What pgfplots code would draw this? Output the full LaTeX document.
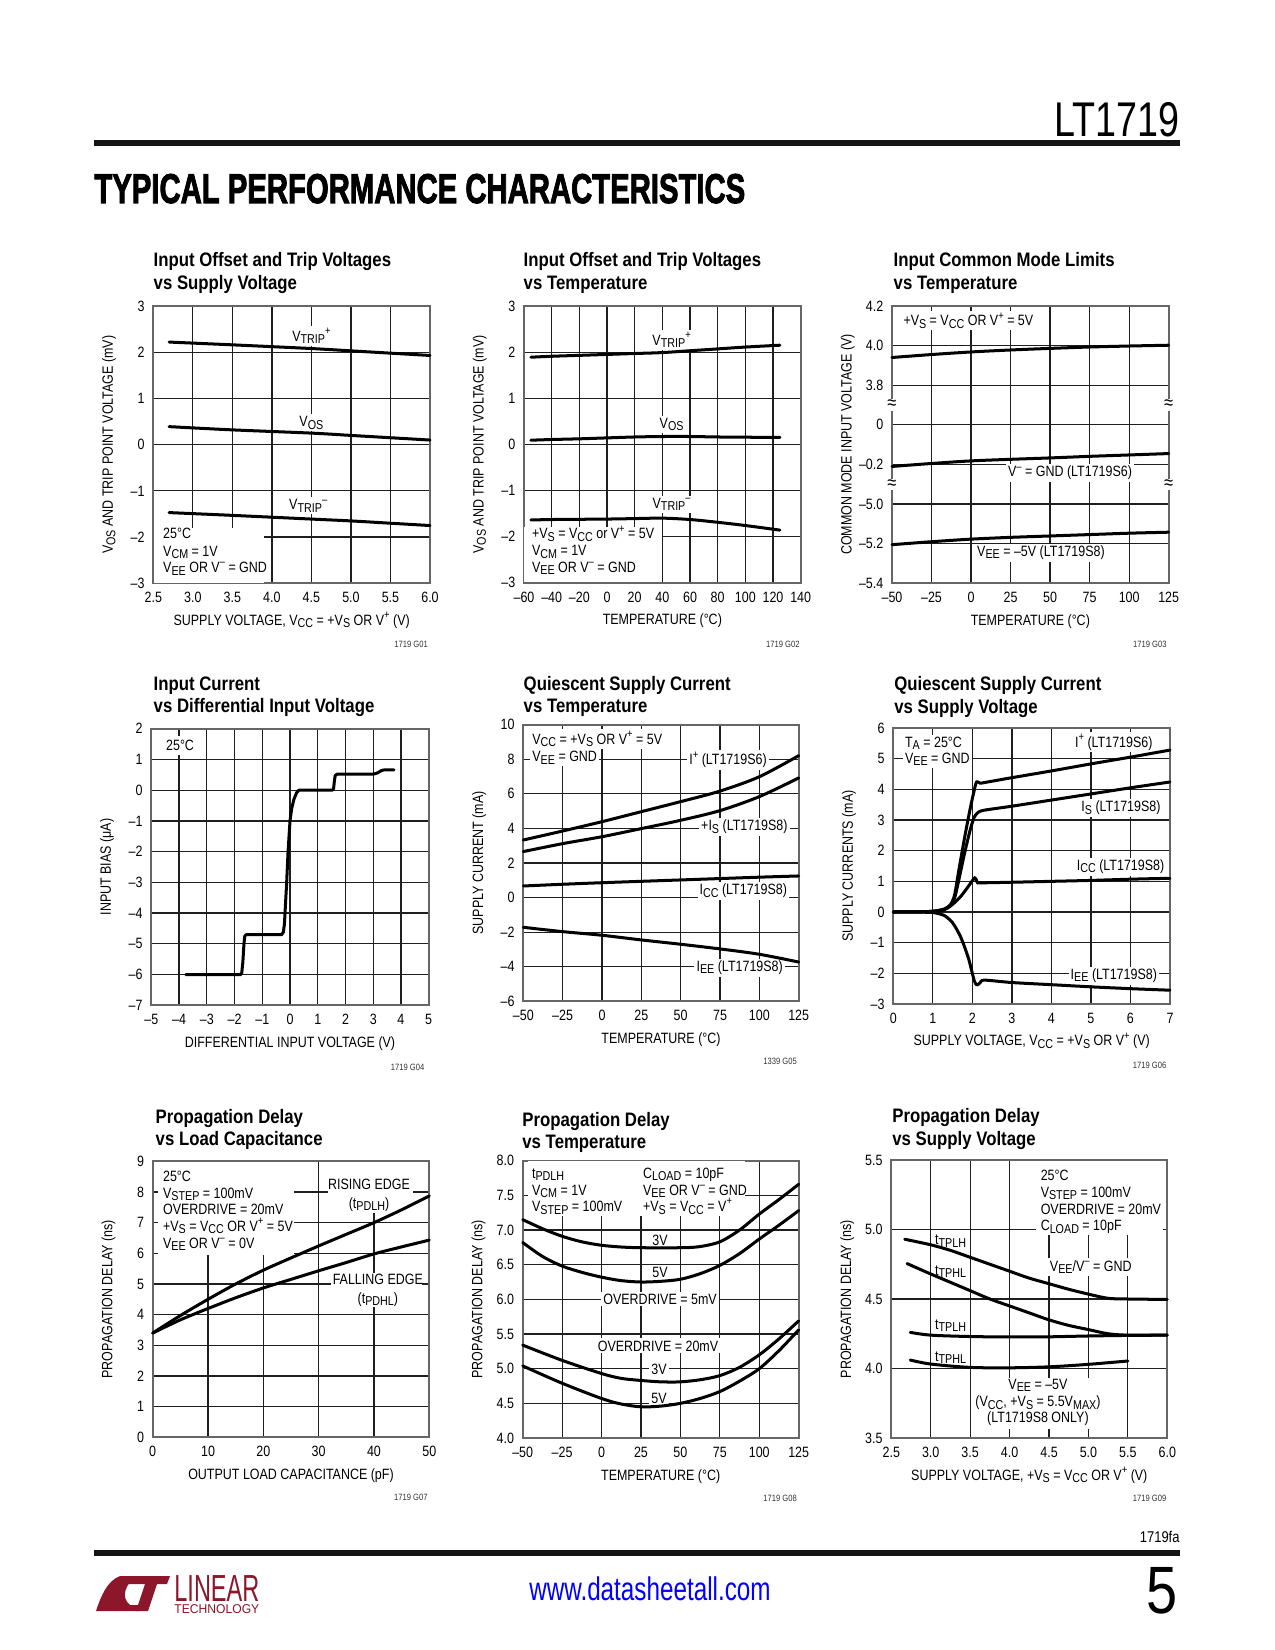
\documentclass[border=0pt]{standalone}
\usepackage{fontspec}
\setmainfont{Liberation Sans}[FakeStretch=0.835]
\newfontfamily\titlefam{Liberation Sans}[FakeStretch=0.86]
\newfontfamily\heavyfam{Liberation Sans}[FakeBold=2.5]
\newfontfamily\urlfam{Liberation Sans}[FakeStretch=0.74]
\usepackage{graphicx}
\usepackage{pgfplots}
\pgfplotsset{compat=1.18}
\definecolor{logored}{RGB}{140,22,42}

\newcommand\cf{\fontsize{7.2}{8.2}\selectfont}
\newcommand\Sb[1]{\raisebox{-0.3ex}{\fontsize{6.2}{6.2}\selectfont #1}}
\newcommand\Sp[1]{\raisebox{0.85ex}{\fontsize{5.4}{5.4}\selectfont #1}}
\newcommand\ctitle[4]{%
  \node[anchor=base west,inner sep=0pt,font=\titlefam\bfseries\fontsize{9.4}{11}\selectfont] at (#1,#2) {#3};
  \node[anchor=base west,inner sep=0pt,font=\titlefam\bfseries\fontsize{9.4}{11}\selectfont] at (#1,#2+22.6) {#4};}
\newcommand\gcode[3]{\node[anchor=base east,inner sep=0pt,font=\fontsize{4.4}{5}\selectfont,text=black!80] at (#1,#2) {#3};}

\pgfplotsset{
 ds/.style={
  scale only axis, clip=false,
  axis line style={draw=black!60, line width=0.8pt},
  grid=major,
  major grid style={draw=black!88, line width=0.6pt},
  major tick length=0pt,
  xtick style={draw=none}, ytick style={draw=none},
  tick label style={font=\cf, text=black},
  xticklabel style={anchor=base, inner sep=0pt, yshift=-9.45pt},
  yticklabel style={anchor=east, inner sep=0pt, xshift=-4pt},
  label style={font=\cf},
  xlabel style={at={(axis description cs:0.5,-0.152)}, anchor=base, inner sep=0pt},
  ylabel style={at={(axis description cs:-0.16,0.5)}, anchor=center, inner sep=0pt},
  every axis plot/.append style={line width=1.45pt, draw=black, mark=none, line join=round, line cap=round},
 },
 pos/.style 2 args={at={(#1*0.4818pt,-#2*0.4818pt)}, anchor=south west},
}
\tikzset{
 lab/.style={fill=white, inner sep=1pt, font=\cf},
 txt/.style={inner sep=0pt, font=\cf},
 brk/.style={fill=white,inner xsep=0pt,inner ysep=0.4pt,font=\fontsize{9.5}{9.5}\selectfont},
}

\begin{document}
\begin{tikzpicture}
\path[use as bounding box, fill=white] (0,0) rectangle (8.5in,-11in);
\begin{scope}[x=0.4818pt,y=-0.4818pt]
% header
\fill[black!92] (94,140) rectangle (1180,146);
\node[anchor=base east,inner sep=0pt] at (1180,137) {\resizebox{60.2pt}{16.4pt}{LT1719}};
\node[anchor=base west,inner sep=0pt] at (94,203) {\resizebox{313.6pt}{14pt}{\heavyfam\bfseries TYPICAL PERFORMANCE CHARACTERISTICS}};
% footer
\fill[black!92] (94,1550) rectangle (1180,1556);
\node[anchor=base east,inner sep=0pt,font=\fontsize{7.5}{8}\selectfont] at (1180,1542) {1719fa};
\node[anchor=base,inner sep=0pt,text=blue,font=\urlfam\fontsize{15.8}{16}\selectfont] at (650,1600) {www.datasheetall.com};
\node[anchor=base east,inner sep=0pt] at (1178,1613) {\resizebox{!}{22.2pt}{5}};
% logo
\fill[logored] (96,1611) .. controls (101,1596) and (107,1581) .. (120,1576) -- (136,1576) .. controls (126,1584) and (120,1597) .. (130,1605) -- (141,1605) -- (138,1611) -- cycle;
\fill[logored] (131,1576) -- (170,1576) -- (167,1584) -- (157,1584) -- (148,1611) -- (136,1611) -- (145,1584) -- (128,1584) -- cycle;
\node[anchor=base west,inner sep=0pt,text=logored] at (174,1601) {\resizebox{40.9pt}{12.5pt}{LINEAR}};
\node[anchor=base west,inner sep=0pt,text=logored] at (174,1613) {\resizebox{40.9pt}{4.3pt}{TECHNOLOGY}};
% titles
\ctitle{153.3}{266.7}{Input Offset and Trip Voltages}{vs Supply Voltage}
\ctitle{523.3}{266.7}{Input Offset and Trip Voltages}{vs Temperature}
\ctitle{893.3}{266.7}{Input Common Mode Limits}{vs Temperature}
\ctitle{153.3}{690}{Input Current}{vs Differential Input Voltage}
\ctitle{523.3}{690}{Quiescent Supply Current}{vs Temperature}
\ctitle{894}{690.7}{Quiescent Supply Current}{vs Supply Voltage}
\ctitle{155.3}{1123.3}{Propagation Delay}{vs Load Capacitance}
\ctitle{522}{1126}{Propagation Delay}{vs Temperature}
\ctitle{892}{1122.7}{Propagation Delay}{vs Supply Voltage}
% codes
\gcode{428.3}{647.3}{1719 G01}
\gcode{800}{647.3}{1719 G02}
\gcode{1167}{647.3}{1719 G03}
\gcode{424.7}{1070}{1719 G04}
\gcode{797.3}{1064.7}{1339 G05}
\gcode{1166.7}{1068.7}{1719 G06}
\gcode{428}{1500.7}{1719 G07}
\gcode{797.3}{1501.3}{1719 G08}
\gcode{1166.7}{1501.3}{1719 G09}
\end{scope}

% ---------------- Chart 1
\begin{axis}[ds, pos={153.3}{583.3}, width=133.31pt, height=133.60pt,
 xmin=2.5,xmax=6,ymin=-3,ymax=3,
 xtick={2.5,3,3.5,4,4.5,5,5.5,6}, xticklabels={2.5,3.0,3.5,4.0,4.5,5.0,5.5,6.0},
 ytick={-3,-2,-1,0,1,2,3}, yticklabels={–3,–2,–1,0,1,2,3},
 xlabel={SUPPLY VOLTAGE, V\Sb{CC} = +V\Sb{S} OR V\Sp{+} (V)},
 ylabel={V\Sb{OS} AND TRIP POINT VOLTAGE (mV)}]
\fill[white] (axis cs:2.515,-2.985) rectangle (axis cs:3.9,-1.8);
\node[txt,anchor=base west] at (axis cs:2.62,-2.03) {25°C};
\node[txt,anchor=base west] at (axis cs:2.62,-2.41) {V\Sb{CM} = 1V};
\node[txt,anchor=base west] at (axis cs:2.62,-2.77) {V\Sb{EE} OR V\Sp{–} = GND};
\node[lab,anchor=base] at (axis cs:4.5,2.23) {V\Sb{TRIP}\Sp{+}};
\node[lab,anchor=base] at (axis cs:4.5,0.39) {V\Sb{OS}};
\node[lab,anchor=base] at (axis cs:4.46,-1.41) {V\Sb{TRIP}\Sp{–}};
\addplot[smooth] coordinates {(2.7,2.22)(3.5,2.16)(4.5,2.08)(5,2.03)(5.5,1.98)(6,1.93)};
\addplot[smooth] coordinates {(2.7,0.39)(3.5,0.32)(4.5,0.25)(5,0.2)(5.5,0.15)(6,0.1)};
\addplot[smooth] coordinates {(2.7,-1.47)(3.5,-1.53)(4.5,-1.61)(5,-1.65)(5.5,-1.7)(6,-1.75)};
\end{axis}

% ---------------- Chart 2
\begin{axis}[ds, pos={524}{582.7}, width=133.31pt, height=133.31pt,
 xmin=-60,xmax=140,ymin=-3,ymax=3,
 xtick={-60,-40,-20,0,20,40,60,80,100,120,140}, xticklabels={–60,–40,–20,0,20,40,60,80,100,120,140},
 ytick={-3,-2,-1,0,1,2,3}, yticklabels={–3,–2,–1,0,1,2,3},
 xlabel={TEMPERATURE (°C)},
 ylabel={V\Sb{OS} AND TRIP POINT VOLTAGE (mV)}]
\fill[white] (axis cs:-59.7,-2.985) rectangle (axis cs:39.5,-1.8);
\node[txt,anchor=base west] at (axis cs:-54.5,-2.05) {+V\Sb{S} = V\Sb{CC} or V\Sp{+} = 5V};
\node[txt,anchor=base west] at (axis cs:-54.5,-2.42) {V\Sb{CM} = 1V};
\node[txt,anchor=base west] at (axis cs:-54.5,-2.78) {V\Sb{EE} OR V\Sp{–} = GND};
\node[lab,anchor=base] at (axis cs:46.7,2.15) {V\Sb{TRIP}\Sp{+}};
\node[lab,anchor=base] at (axis cs:46.7,0.35) {V\Sb{OS}};
\node[lab,anchor=base] at (axis cs:46.7,-1.39) {V\Sb{TRIP}\Sp{–}};
\addplot[smooth] coordinates {(-55,1.89)(-40,1.91)(-20,1.93)(0,1.95)(20,1.97)(40,1.99)(60,2.03)(80,2.07)(100,2.11)(125,2.15)};
\addplot[smooth] coordinates {(-55,0.09)(-40,0.105)(-20,0.12)(0,0.14)(20,0.16)(40,0.17)(60,0.17)(80,0.16)(100,0.155)(125,0.15)};
\addplot[smooth] coordinates {(-55,-1.64)(-40,-1.63)(-20,-1.625)(0,-1.62)(20,-1.61)(40,-1.6)(60,-1.63)(80,-1.69)(100,-1.76)(125,-1.86)};
\end{axis}

% ---------------- Chart 3 (broken axis: 7 equal steps)
\begin{axis}[ds, pos={892}{583.3}, width=133.31pt, height=133.60pt,
 xmin=-50,xmax=125,ymin=0,ymax=7,
 xtick={-50,-25,0,25,50,75,100,125}, xticklabels={–50,–25,0,25,50,75,100,125},
 ytick={0,1,2,3,4,5,6,7}, yticklabels={–5.4,–5.2,–5.0,–0.2,0,3.8,4.0,4.2},
 xlabel={TEMPERATURE (°C)},
 ylabel={COMMON MODE INPUT VOLTAGE (V)}]
\node[lab,anchor=base west] at (axis cs:-44.3,6.5) {+V\Sb{S} = V\Sb{CC} OR V\Sp{+} = 5V};
\node[lab,anchor=base] at (axis cs:62.6,2.69) {V\Sp{–} = GND (LT1719S6)};
\node[lab,anchor=base] at (axis cs:44.2,0.675) {V\Sb{EE} = –5V (LT1719S8)};
\node[brk] at (axis cs:-50,2.5) {≈};
\node[brk] at (axis cs:-50,4.5) {≈};
\node[brk] at (axis cs:125,2.5) {≈};
\node[brk] at (axis cs:125,4.5) {≈};
\addplot[smooth] table[x=t, y expr={5+(\thisrow{v}-3.8)/0.2}, row sep=\\] {t v\\ -50 3.94\\ -25 3.955\\ 0 3.968\\ 25 3.978\\ 50 3.986\\ 75 3.993\\ 100 3.998\\ 125 4.002\\};
\addplot[smooth] table[x=t, y expr={3+(\thisrow{v}+0.2)/0.2}, row sep=\\] {t v\\ -50 -0.21\\ -25 -0.195\\ 0 -0.182\\ 25 -0.174\\ 50 -0.167\\ 75 -0.159\\ 100 -0.152\\ 125 -0.145\\};
\addplot[smooth] table[x=t, y expr={(\thisrow{v}+5.4)/0.2}, row sep=\\] {t v\\ -50 -5.205\\ -25 -5.19\\ 0 -5.177\\ 25 -5.168\\ 50 -5.161\\ 75 -5.154\\ 100 -5.147\\ 125 -5.142\\};
\end{axis}

% ---------------- Chart 4
\begin{axis}[ds, pos={151.3}{1005.3}, width=133.65pt, height=133.27pt,
 xmin=-5,xmax=5,ymin=-7,ymax=2,
 xtick={-5,-4,-3,-2,-1,0,1,2,3,4,5}, xticklabels={–5,–4,–3,–2,–1,0,1,2,3,4,5},
 ytick={-7,-6,-5,-4,-3,-2,-1,0,1,2}, yticklabels={–7,–6,–5,–4,–3,–2,–1,0,1,2},
 xlabel={DIFFERENTIAL INPUT VOLTAGE (V)},
 ylabel={INPUT BIAS (μA)}]
\node[fill=white,inner sep=2pt,font=\cf,anchor=base west] at (axis cs:-4.63,1.28) {25°C};
\addplot[sharp plot] coordinates {(-3.76,-6.0)(-1.78,-6.0)(-1.74,-5.95)(-1.7,-5.6)(-1.66,-5.0)(-1.63,-4.75)(-1.58,-4.7)(-0.3,-4.7)(-0.24,-4.62)(-0.2,-4.35)(-0.18,-4.0)(-0.12,-3.0)(-0.07,-2.0)(0.0,-1.0)(0.06,-0.6)(0.14,-0.3)(0.24,-0.08)(0.32,0)(1.52,0)(1.57,0.04)(1.6,0.3)(1.63,0.48)(1.7,0.52)(3.0,0.52)(3.15,0.56)(3.3,0.64)(3.4,0.66)(3.75,0.66)};
\end{axis}

% ---------------- Chart 5
\begin{axis}[ds, pos={523.3}{1001.3}, width=132.69pt, height=133.27pt,
 xmin=-50,xmax=125,ymin=-6,ymax=10,
 xtick={-50,-25,0,25,50,75,100,125}, xticklabels={–50,–25,0,25,50,75,100,125},
 ytick={-6,-4,-2,0,2,4,6,8,10}, yticklabels={–6,–4,–2,0,2,4,6,8,10},
 xlabel={TEMPERATURE (°C)},
 ylabel={SUPPLY CURRENT (mA)}]
\node[lab,anchor=base west] at (axis cs:-45.8,8.88) {V\Sb{CC} = +V\Sb{S} OR V\Sp{+} = 5V};
\node[lab,anchor=base west] at (axis cs:-45.8,7.86) {V\Sb{EE} = GND};
\node[lab,anchor=base] at (axis cs:80.1,7.67) {I\Sp{+} (LT1719S6)};
\node[lab,anchor=base] at (axis cs:90.5,3.87) {+I\Sb{S} (LT1719S8)};
\node[lab,anchor=base] at (axis cs:89.8,0.15) {I\Sb{CC} (LT1719S8)};
\node[lab,anchor=base] at (axis cs:87.5,-4.28) {I\Sb{EE} (LT1719S8)};
\addplot[smooth] coordinates {(-50,3.33)(-25,3.85)(0,4.39)(25,4.97)(50,5.55)(75,6.16)(100,6.99)(125,8.21)};
\addplot[smooth] coordinates {(-50,2.66)(-25,3.12)(0,3.52)(25,3.99)(50,4.47)(75,5.03)(100,5.84)(125,6.92)};
\addplot[smooth] coordinates {(-50,0.67)(-25,0.77)(0,0.86)(25,0.94)(50,1.02)(75,1.1)(100,1.18)(125,1.25)};
\addplot[smooth] coordinates {(-50,-1.72)(-25,-1.97)(0,-2.18)(25,-2.45)(50,-2.7)(75,-2.97)(100,-3.28)(125,-3.73)};
\end{axis}

% ---------------- Chart 6
\begin{axis}[ds, pos={893.3}{1004}, width=133.31pt, height=132.98pt,
 xmin=0,xmax=7,ymin=-3,ymax=6,
 xtick={0,1,2,3,4,5,6,7},
 ytick={-3,-2,-1,0,1,2,3,4,5,6}, yticklabels={–3,–2,–1,0,1,2,3,4,5,6},
 xticklabels={0,1,2,3,4,5,6,7},
 xlabel={SUPPLY VOLTAGE, V\Sb{CC} = +V\Sb{S} OR V\Sp{+} (V)},
 ylabel={SUPPLY CURRENTS (mA)}]
\node[lab,anchor=base west] at (axis cs:0.236,5.37) {T\Sb{A} = 25°C};
\node[lab,anchor=base west] at (axis cs:0.236,4.85) {V\Sb{EE} = GND};
\node[lab,anchor=base] at (axis cs:5.58,5.37) {I\Sp{+} (LT1719S6)};
\node[lab,anchor=base] at (axis cs:5.76,3.27) {I\Sb{S} (LT1719S8)};
\node[lab,anchor=base] at (axis cs:5.75,1.35) {I\Sb{CC} (LT1719S8)};
\node[lab,anchor=base] at (axis cs:5.58,-2.2) {I\Sb{EE} (LT1719S8)};
\addplot[smooth,tension=0.4] coordinates {(0,0)(0.8,0.01)(1.1,0.04)(1.3,0.1)(1.45,0.25)(1.55,0.55)(1.65,1.3)(1.8,2.4)(1.95,3.4)(2.08,4.15)(2.12,4.25)(2.2,4.2)(2.3,4.22)(3,4.38)(4,4.6)(5,4.83)(6,5.05)(7,5.28)};
\addplot[smooth,tension=0.4] coordinates {(0,0)(0.8,0.01)(1.1,0.03)(1.3,0.08)(1.45,0.2)(1.55,0.45)(1.65,1.0)(1.8,1.9)(1.95,2.7)(2.05,3.1)(2.15,3.25)(2.3,3.32)(3,3.45)(4,3.65)(5,3.85)(6,4.05)(7,4.24)};
\addplot[smooth,tension=0.4] coordinates {(0,0)(0.8,0.01)(1.1,0.04)(1.3,0.1)(1.5,0.25)(1.7,0.5)(1.85,0.75)(2.0,1.02)(2.06,1.12)(2.1,1.05)(2.13,0.95)(2.2,0.95)(3,0.97)(4,1.0)(5,1.03)(6,1.07)(7,1.1)};
\addplot[smooth,tension=0.4] coordinates {(0,0)(0.9,-0.01)(1.1,-0.04)(1.3,-0.12)(1.5,-0.35)(1.7,-0.8)(1.9,-1.5)(2.05,-2.25)(2.12,-2.38)(2.2,-2.3)(2.3,-2.22)(3,-2.3)(4,-2.37)(5,-2.44)(6,-2.5)(7,-2.55)};
\end{axis}

% ---------------- Chart 7
\begin{axis}[ds, pos={152.7}{1437.3}, width=133.27pt, height=132.98pt,
 xmin=0,xmax=50,ymin=0,ymax=9,
 xtick={0,10,20,30,40,50}, xticklabels={0,10,20,30,40,50},
 ytick={0,1,2,3,4,5,6,7,8,9}, yticklabels={0,1,2,3,4,5,6,7,8,9},
 xlabel={OUTPUT LOAD CAPACITANCE (pF)},
 ylabel={PROPAGATION DELAY (ns)}]
\fill[white] (axis cs:1.0,5.93) rectangle (axis cs:25.5,8.97);
\node[txt,anchor=base west] at (axis cs:1.8,8.34) {25°C};
\node[txt,anchor=base west] at (axis cs:1.8,7.79) {V\Sb{STEP} = 100mV};
\node[txt,anchor=base west] at (axis cs:1.8,7.25) {OVERDRIVE = 20mV};
\node[txt,anchor=base west] at (axis cs:1.8,6.71) {+V\Sb{S} = V\Sb{CC} OR V\Sp{+} = 5V};
\node[txt,anchor=base west] at (axis cs:1.8,6.16) {V\Sb{EE} OR V\Sp{–} = 0V};
\fill[white] (axis cs:31.6,7.32) rectangle (axis cs:47,8.97);
\node[txt,anchor=base] at (axis cs:39.1,8.09) {RISING EDGE};
\node[txt,anchor=base] at (axis cs:39.1,7.47) {(t\Sb{PDLH})};
\fill[white] (axis cs:32.3,4.25) rectangle (axis cs:48.6,5.35);
\node[txt,anchor=base] at (axis cs:40.7,4.99) {FALLING EDGE};
\node[txt,anchor=base] at (axis cs:40.7,4.37) {(t\Sb{PDHL})};
\addplot[smooth] coordinates {(0,3.4)(5,3.97)(10,4.5)(15,5.0)(20,5.45)(25,5.85)(30,6.24)(35,6.62)(40,7.0)(45,7.42)(50,7.87)};
\addplot[smooth] coordinates {(0,3.4)(5,3.83)(10,4.2)(15,4.55)(20,4.87)(25,5.15)(30,5.43)(35,5.7)(40,5.98)(45,6.21)(50,6.43)};
\end{axis}

% ---------------- Chart 8
\begin{axis}[ds, pos={522.7}{1438}, width=132.98pt, height=133.60pt,
 xmin=-50,xmax=125,ymin=4,ymax=8,
 xtick={-50,-25,0,25,50,75,100,125}, xticklabels={–50,–25,0,25,50,75,100,125},
 ytick={4,4.5,5,5.5,6,6.5,7,7.5,8}, yticklabels={4.0,4.5,5.0,5.5,6.0,6.5,7.0,7.5,8.0},
 xlabel={TEMPERATURE (°C)},
 ylabel={PROPAGATION DELAY (ns)}]
\fill[white] (axis cs:-46.5,7.2) rectangle (axis cs:91,7.99);
\node[txt,anchor=base west] at (axis cs:-44.3,7.745) {t\Sb{PDLH}};
\node[txt,anchor=base west] at (axis cs:-44.3,7.505) {V\Sb{CM} = 1V};
\node[txt,anchor=base west] at (axis cs:-44.3,7.265) {V\Sb{STEP} = 100mV};
\node[txt,anchor=base west] at (axis cs:26.1,7.745) {C\Sb{LOAD} = 10pF};
\node[txt,anchor=base west] at (axis cs:26.1,7.505) {V\Sb{EE} OR V\Sp{–} = GND};
\node[txt,anchor=base west] at (axis cs:26.1,7.265) {+V\Sb{S} = V\Sb{CC} = V\Sp{+}};
\node[lab,anchor=base] at (axis cs:37.1,6.78) {3V};
\node[lab,anchor=base] at (axis cs:37.1,6.32) {5V};
\node[lab,anchor=base] at (axis cs:37.1,5.93) {OVERDRIVE = 5mV};
\node[lab,anchor=base] at (axis cs:35.8,5.255) {OVERDRIVE = 20mV};
\node[lab,anchor=base] at (axis cs:36.5,4.92) {3V};
\node[lab,anchor=base] at (axis cs:36.5,4.5) {5V};
\addplot[smooth] coordinates {(-50,7.15)(-37.5,7.02)(-25,6.91)(-12.5,6.83)(0,6.78)(12.5,6.755)(25,6.745)(50,6.745)(62,6.76)(75,6.83)(87.5,7.0)(100,7.23)(112.5,7.44)(125,7.66)};
\addplot[smooth] coordinates {(-50,6.82)(-37.5,6.62)(-25,6.48)(-12.5,6.39)(0,6.32)(12.5,6.27)(25,6.25)(37.5,6.26)(50,6.29)(62.5,6.37)(75,6.49)(87.5,6.66)(100,6.87)(112.5,7.07)(125,7.28)};
\addplot[smooth] coordinates {(-50,5.34)(-25,5.12)(0,4.93)(12.5,4.86)(25,4.83)(37.5,4.81)(50,4.81)(62.5,4.84)(75,4.9)(87.5,5.02)(100,5.2)(112.5,5.43)(125,5.69)};
\addplot[smooth] coordinates {(-50,5.04)(-25,4.79)(0,4.57)(12.5,4.49)(25,4.45)(37.5,4.46)(50,4.5)(62.5,4.57)(75,4.67)(87.5,4.82)(100,5.0)(112.5,5.26)(125,5.56)};
\end{axis}

% ---------------- Chart 9
\begin{axis}[ds, pos={891.3}{1438}, width=132.98pt, height=133.94pt,
 xmin=2.5,xmax=6,ymin=3.5,ymax=5.5,
 xtick={2.5,3,3.5,4,4.5,5,5.5,6}, xticklabels={2.5,3.0,3.5,4.0,4.5,5.0,5.5,6.0},
 ytick={3.5,4,4.5,5,5.5}, yticklabels={3.5,4.0,4.5,5.0,5.5},
 xlabel={SUPPLY VOLTAGE, +V\Sb{S} = V\Sb{CC} OR V\Sp{+} (V)},
 ylabel={PROPAGATION DELAY (ns)}]
\fill[white] (axis cs:4.34,4.96) rectangle (axis cs:5.95,5.49);
\node[txt,anchor=base west] at (axis cs:4.39,5.35) {25°C};
\node[txt,anchor=base west] at (axis cs:4.39,5.23) {V\Sb{STEP} = 100mV};
\node[txt,anchor=base west] at (axis cs:4.39,5.11) {OVERDRIVE = 20mV};
\node[txt,anchor=base west] at (axis cs:4.39,4.99) {C\Sb{LOAD} = 10pF};
\node[lab,anchor=base west] at (axis cs:4.48,4.70) {V\Sb{EE}/V\Sp{–} = GND};
\fill[white] (axis cs:3.72,3.565) rectangle (axis cs:5.05,3.93);
\node[txt,anchor=base] at (axis cs:4.36,3.85) {V\Sb{EE} = –5V};
\node[txt,anchor=base] at (axis cs:4.36,3.725) {(V\Sb{CC}, +V\Sb{S} = 5.5V\Sb{MAX})};
\node[txt,anchor=base] at (axis cs:4.36,3.61) {(LT1719S8 ONLY)};
\node[txt,anchor=base west] at (axis cs:3.05,4.89) {t\Sb{TPLH}};
\node[txt,anchor=base west] at (axis cs:3.05,4.67) {t\Sb{TPHL}};
\node[txt,anchor=base west] at (axis cs:3.05,4.28) {t\Sb{TPLH}};
\node[txt,anchor=base west] at (axis cs:3.05,4.05) {t\Sb{TPHL}};
\addplot[smooth] coordinates {(2.67,4.93)(3.0,4.89)(3.25,4.85)(3.5,4.8)(3.75,4.75)(4.0,4.7)(4.25,4.65)(4.5,4.61)(4.75,4.57)(5.0,4.535)(5.25,4.505)(5.5,4.5)(6.0,4.497)};
\addplot[smooth] coordinates {(2.7,4.755)(3.0,4.68)(3.25,4.62)(3.5,4.56)(3.75,4.5)(4.0,4.45)(4.25,4.4)(4.5,4.35)(4.75,4.31)(5.0,4.28)(5.25,4.25)(5.5,4.24)(6.0,4.24)};
\addplot[smooth] coordinates {(2.74,4.26)(3.0,4.24)(3.5,4.23)(4.0,4.227)(4.5,4.228)(5.0,4.234)(5.5,4.238)(6.0,4.24)};
\addplot[smooth] coordinates {(2.74,4.061)(3.0,4.032)(3.5,4.008)(4.0,4.005)(4.5,4.012)(5.0,4.03)(5.5,4.054)};
\end{axis}
\end{tikzpicture}
\end{document}
